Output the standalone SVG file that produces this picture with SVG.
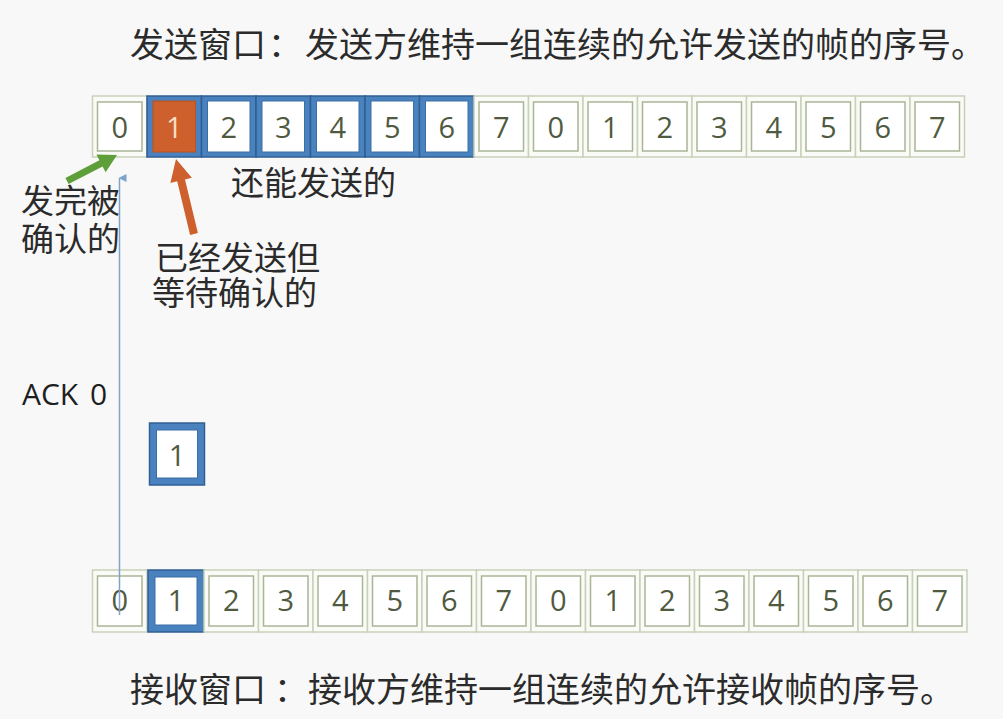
<svg xmlns="http://www.w3.org/2000/svg" width="1003" height="719" viewBox="0 0 1003 719">
<style>
.cjk{font-family:"Noto Sans CJK SC","Noto Sans",sans-serif;fill:#2b2b2b;font-size:33px}
.ttl{font-size:34px}
.d{font-family:"Open Sans","Noto Sans",sans-serif;font-size:29px;fill:#4f5a40;text-anchor:middle}
.o{fill:#fafbf6;stroke:#c7d1b8;stroke-width:1.5}
.i{fill:#ffffff;stroke:#a9b597;stroke-width:1.5}
.bo{fill:#4a82bf;stroke:#2f5f93;stroke-width:1.5}
.bi{fill:#ffffff;stroke:#3a6ea6;stroke-width:1}
.or{fill:#cd602c;stroke:#b8521f;stroke-width:1}
.ack{font-family:"Open Sans","Noto Sans",sans-serif;font-size:30px;fill:#1e1e1e}
</style>
<defs>
<marker id="thinhead" markerWidth="8" markerHeight="8" refX="4" refY="1" orient="auto-start-reverse" markerUnits="userSpaceOnUse" viewBox="0 0 8 8">
<path d="M0,8 L4,0 L8,8 Z" fill="#7fa3c9"/>
</marker>
</defs>
<rect x="0" y="0" width="1003" height="719" fill="#f8f8f8"/>

<g id="title-send"><text class="cjk ttl" y="57"><tspan x="130">发送窗口</tspan><tspan x="268">：</tspan><tspan x="305">发送方维持一组连续的允许发送的帧的序号。</tspan></text></g>

<g id="send-window">
<g id="s0"><rect class="o" x="92.5" y="96" width="54.5" height="61"/><rect class="i" x="97.5" y="102" width="44.5" height="49"/><text class="d" x="119.8" y="138">0</text></g>
<g id="s1"><rect class="bo" x="147" y="96" width="54.5" height="61"/><rect class="or" x="153" y="101" width="42.5" height="51"/><text class="d" x="174.3" y="138" style="fill:#f7dcc6">1</text></g>
<g id="s2"><rect class="bo" x="201.5" y="96" width="54.5" height="61"/><rect class="bi" x="207.5" y="101" width="42.5" height="51"/><text class="d" x="228.8" y="138">2</text></g>
<g id="s3"><rect class="bo" x="256" y="96" width="54.5" height="61"/><rect class="bi" x="262" y="101" width="42.5" height="51"/><text class="d" x="283.3" y="138">3</text></g>
<g id="s4"><rect class="bo" x="310.5" y="96" width="54.5" height="61"/><rect class="bi" x="316.5" y="101" width="42.5" height="51"/><text class="d" x="337.8" y="138">4</text></g>
<g id="s5"><rect class="bo" x="365" y="96" width="54.5" height="61"/><rect class="bi" x="371" y="101" width="42.5" height="51"/><text class="d" x="392.3" y="138">5</text></g>
<g id="s6"><rect class="bo" x="419.5" y="96" width="54.5" height="61"/><rect class="bi" x="425.5" y="101" width="42.5" height="51"/><text class="d" x="446.8" y="138">6</text></g>
<g id="s7"><rect class="o" x="474" y="96" width="54.5" height="61"/><rect class="i" x="479" y="102" width="44.5" height="49"/><text class="d" x="501.3" y="138">7</text></g>
<g id="s8"><rect class="o" x="528.5" y="96" width="54.5" height="61"/><rect class="i" x="533.5" y="102" width="44.5" height="49"/><text class="d" x="555.8" y="138">0</text></g>
<g id="s9"><rect class="o" x="583" y="96" width="54.5" height="61"/><rect class="i" x="588" y="102" width="44.5" height="49"/><text class="d" x="610.3" y="138">1</text></g>
<g id="s10"><rect class="o" x="637.5" y="96" width="54.5" height="61"/><rect class="i" x="642.5" y="102" width="44.5" height="49"/><text class="d" x="664.8" y="138">2</text></g>
<g id="s11"><rect class="o" x="692" y="96" width="54.5" height="61"/><rect class="i" x="697" y="102" width="44.5" height="49"/><text class="d" x="719.3" y="138">3</text></g>
<g id="s12"><rect class="o" x="746.5" y="96" width="54.5" height="61"/><rect class="i" x="751.5" y="102" width="44.5" height="49"/><text class="d" x="773.8" y="138">4</text></g>
<g id="s13"><rect class="o" x="801" y="96" width="54.5" height="61"/><rect class="i" x="806" y="102" width="44.5" height="49"/><text class="d" x="828.3" y="138">5</text></g>
<g id="s14"><rect class="o" x="855.5" y="96" width="54.5" height="61"/><rect class="i" x="860.5" y="102" width="44.5" height="49"/><text class="d" x="882.8" y="138">6</text></g>
<g id="s15"><rect class="o" x="910" y="96" width="54.5" height="61"/><rect class="i" x="915" y="102" width="44.5" height="49"/><text class="d" x="937.3" y="138">7</text></g>
</g>

<g id="label-can-send"><text class="cjk" x="231" y="195">还能发送的</text></g>
<g id="label-acked"><text class="cjk" x="21" y="213">发完被</text><text class="cjk" x="21" y="251">确认的</text></g>
<g id="label-sent-waiting"><text class="cjk" x="155" y="270">已经发送但</text><text class="cjk" x="152" y="305">等待确认的</text></g>
<g id="label-ack"><text class="ack" x="22" y="405">ACK</text><text class="ack" x="90" y="405">0</text></g>

<g id="frame-in-transit"><rect class="bo" x="149.5" y="423" width="55" height="62"/><rect class="bi" x="156.5" y="430" width="41" height="48"/><text class="d" x="177" y="466">1</text></g>

<g id="recv-window">
<g id="r0"><rect class="o" x="92.5" y="570" width="54.5" height="62"/><rect class="i" x="97.5" y="576" width="44.5" height="50"/><text class="d" x="119.8" y="611">0</text></g>
<g id="r1"><rect class="bo" x="148" y="570" width="56" height="62"/><rect class="bi" x="155" y="577" width="42" height="48"/><text class="d" x="176" y="611">1</text></g>
<g id="r2"><rect class="o" x="204" y="570" width="54.5" height="62"/><rect class="i" x="209" y="576" width="44.5" height="50"/><text class="d" x="231.3" y="611">2</text></g>
<g id="r3"><rect class="o" x="258.5" y="570" width="54.5" height="62"/><rect class="i" x="263.5" y="576" width="44.5" height="50"/><text class="d" x="285.8" y="611">3</text></g>
<g id="r4"><rect class="o" x="313" y="570" width="54.5" height="62"/><rect class="i" x="318" y="576" width="44.5" height="50"/><text class="d" x="340.3" y="611">4</text></g>
<g id="r5"><rect class="o" x="367.5" y="570" width="54.5" height="62"/><rect class="i" x="372.5" y="576" width="44.5" height="50"/><text class="d" x="394.8" y="611">5</text></g>
<g id="r6"><rect class="o" x="422" y="570" width="54.5" height="62"/><rect class="i" x="427" y="576" width="44.5" height="50"/><text class="d" x="449.3" y="611">6</text></g>
<g id="r7"><rect class="o" x="476.5" y="570" width="54.5" height="62"/><rect class="i" x="481.5" y="576" width="44.5" height="50"/><text class="d" x="503.8" y="611">7</text></g>
<g id="r8"><rect class="o" x="531" y="570" width="54.5" height="62"/><rect class="i" x="536" y="576" width="44.5" height="50"/><text class="d" x="558.3" y="611">0</text></g>
<g id="r9"><rect class="o" x="585.5" y="570" width="54.5" height="62"/><rect class="i" x="590.5" y="576" width="44.5" height="50"/><text class="d" x="612.8" y="611">1</text></g>
<g id="r10"><rect class="o" x="640" y="570" width="54.5" height="62"/><rect class="i" x="645" y="576" width="44.5" height="50"/><text class="d" x="667.3" y="611">2</text></g>
<g id="r11"><rect class="o" x="694.5" y="570" width="54.5" height="62"/><rect class="i" x="699.5" y="576" width="44.5" height="50"/><text class="d" x="721.8" y="611">3</text></g>
<g id="r12"><rect class="o" x="749" y="570" width="54.5" height="62"/><rect class="i" x="754" y="576" width="44.5" height="50"/><text class="d" x="776.3" y="611">4</text></g>
<g id="r13"><rect class="o" x="803.5" y="570" width="54.5" height="62"/><rect class="i" x="808.5" y="576" width="44.5" height="50"/><text class="d" x="830.8" y="611">5</text></g>
<g id="r14"><rect class="o" x="858" y="570" width="54.5" height="62"/><rect class="i" x="863" y="576" width="44.5" height="50"/><text class="d" x="885.3" y="611">6</text></g>
<g id="r15"><rect class="o" x="912.5" y="570" width="54.5" height="62"/><rect class="i" x="917.5" y="576" width="44.5" height="50"/><text class="d" x="939.8" y="611">7</text></g>
</g>

<g id="title-recv"><text class="cjk ttl" y="702"><tspan x="130">接收窗口</tspan><tspan x="274">：</tspan><tspan x="308">接收方维持一组连续的允许接收帧的序号。</tspan></text></g>

<g id="connectors">
<line x1="119.5" y1="615" x2="119.5" y2="178" stroke="#7fa3c9" stroke-width="1.5" marker-end="url(#thinhead)"/>
<polygon fill="#5f9f3a" points="117,155 105.6,172.2 102.6,166.4 68.6,184.1 65.4,177.9 99.4,160.2 96.4,154.4"/>
<polygon fill="#cd602c" points="176,159 191.8,177.8 185,179.5 197.9,233.1 190.1,234.9 177.2,181.3 170.4,183"/>
</g>
</svg>
